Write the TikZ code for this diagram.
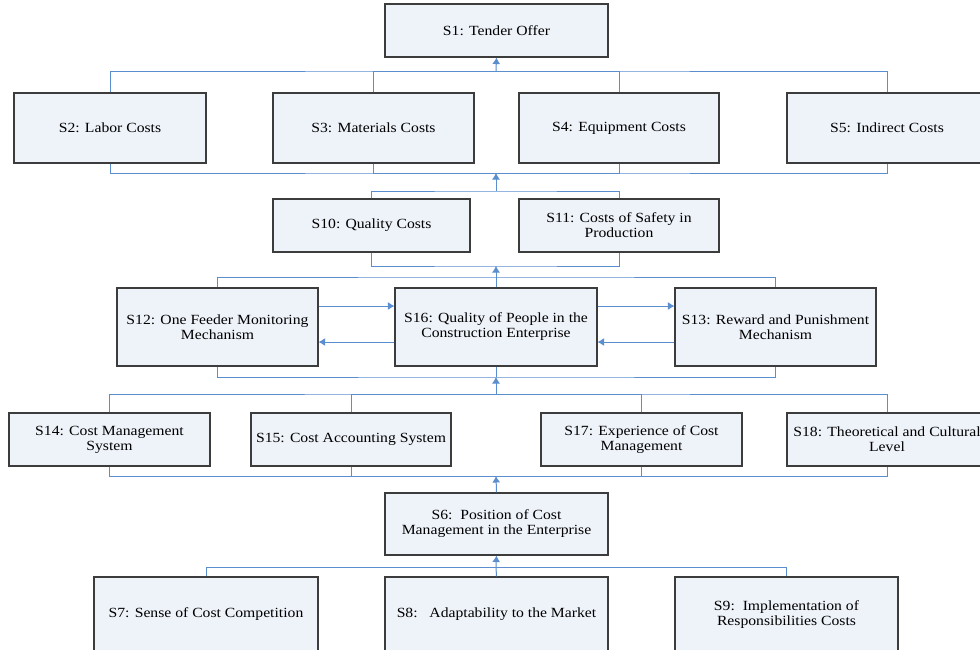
\documentclass[tikz,border=0pt]{standalone}
\usepackage{fontspec}
\setmainfont{Liberation Serif}[FakeStretch=1.12]
\usetikzlibrary{arrows.meta}
\definecolor{boxfill}{RGB}{238,242,249}
\definecolor{boxline}{RGB}{60,60,60}
\definecolor{conncol}{RGB}{90,142,206}
\tikzset{
  stepbox/.style={draw=boxline, line width=1.1pt, fill=boxfill, rectangle, inner sep=0pt, align=center,
    font=\fontsize{14}{15}\selectfont},
  conn/.style={draw=conncol, line width=1pt},
  arr/.style={conn, -{Latex[length=6.5pt,width=8pt]}},
}
\newcommand{\bx}[6]{% name, x1, y1, x2, y2, text
  \node[stepbox, minimum width={(#4-#2)*1pt}, minimum height={(#5-#3)*1pt}] (#1) at ({(#2+#4)/2},{(#3+#5)/2}) {#6};}
\begin{document}
\begin{tikzpicture}[x=1pt, y=-1pt]
\useasboundingbox (0,0) rectangle (980,649);
% row 1
\bx{s1}{385}{4}{608}{57}{S1: Tender Offer}
% row 2
\bx{s2}{14}{93}{206}{163}{S2: Labor Costs}
\bx{s3}{273}{93}{474}{163}{S3: Materials Costs}
\bx{s4}{519}{93}{719}{163}{S4: Equipment Costs}
\bx{s5}{787}{93}{987}{163}{S5: Indirect Costs}
% row 3
\bx{s10}{273}{199}{470}{252}{S10: Quality Costs}
\bx{s11}{519}{199}{719}{252}{S11: Costs of Safety in\\Production}
% row 4
\bx{s12}{117}{288}{318}{366}{S12: One Feeder Monitoring\\Mechanism}
\bx{s16}{395}{288}{597}{366}{S16: Quality of People in the\\Construction Enterprise}
\bx{s13}{675}{288}{876}{366}{S13: Reward and Punishment\\Mechanism}
% row 5
\bx{s14}{9}{413}{210}{466}{S14: Cost Management\\System}
\bx{s15}{251}{413}{451}{466}{S15: Cost Accounting System}
\bx{s17}{541}{413}{742}{466}{S17: Experience of Cost\\Management}
\bx{s18}{787}{413}{987}{466}{S18: Theoretical and Cultural\\Level}
% row 6
\bx{s6}{385}{493}{608}{555}{S6:\ \ Position of Cost\\Management in the Enterprise}
% row 7
\bx{s7}{94}{577}{318}{652}{S7: Sense of Cost Competition}
\bx{s8}{385}{577}{608}{652}{S8:\ \ \ Adaptability to the Market}
\bx{s9}{675}{577}{898}{652}{S9:\ \ Implementation of\\Responsibilities Costs}
% bus coordinates
\coordinate (b1) at (496,71);
\coordinate (b2) at (496,173);
\coordinate (b3) at (496,191);
\coordinate (b4) at (496,266);
\coordinate (b5) at (496,277);
\coordinate (b6) at (496,377);
\coordinate (b7) at (496,394);
\coordinate (b8) at (496,476);
\coordinate (b9) at (496,567);
% row 2 to S1
\draw[conn] (s2.north) |- (b1) -| (s5.north);
\draw[conn] (s3.north) |- (b1);
\draw[conn] (s4.north) |- (b1);
\draw[arr] (b1) -- (s1.south);
\draw[conn] (s2.south) |- (b2) -| (s5.south);
\draw[conn] (s3.south) |- (b2);
\draw[conn] (s4.south) |- (b2);
% row 3
\draw[conn] (s10.north) |- (b3) -| (s11.north);
\draw[arr] (b3) -- (b2);
\draw[conn] (s10.south) |- (b4) -| (s11.south);
% row 4
\draw[conn] (s12.north) |- (b5) -| (s13.north);
\draw[conn] (s16.north) -- (b5);
\draw[arr] (b5) -- (b4);
\draw[conn] (s12.south) |- (b6) -| (s13.south);
\draw[conn] (s16.south) -- (b6);
\draw[arr] ([yshift=21pt]s12.east) -- ([yshift=21pt]s16.west);
\draw[arr] ([yshift=-15pt]s16.west) -- ([yshift=-15pt]s12.east);
\draw[arr] ([yshift=21pt]s16.east) -- ([yshift=21pt]s13.west);
\draw[arr] ([yshift=-15pt]s13.west) -- ([yshift=-15pt]s16.east);
% row 5
\draw[conn] (s14.north) |- (b7) -| (s18.north);
\draw[conn] (s15.north) |- (b7);
\draw[conn] (s17.north) |- (b7);
\draw[arr] (b7) -- (b6);
\draw[conn] (s14.south) |- (b8) -| (s18.south);
\draw[conn] (s15.south) |- (b8);
\draw[conn] (s17.south) |- (b8);
\draw[arr] (s6.north) -- (b8);
% row 7
\draw[conn] (s7.north) |- (b9) -| (s9.north);
\draw[conn] (s8.north) -- (b9);
\draw[arr] (b9) -- (s6.south);
\end{tikzpicture}
\end{document}
